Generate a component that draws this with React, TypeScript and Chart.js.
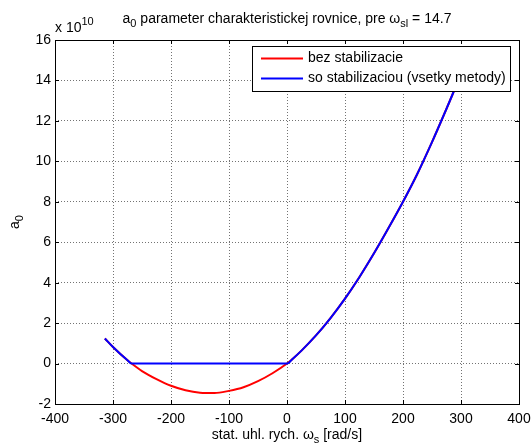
import React, { useEffect, useRef } from "react";
import { Chart, registerables } from "chart.js";

Chart.register(...registerables);

// Stator angular speed [rad/s]
const omegaS = [-314, -300, -275, -268, -250, -225, -200, -175, -150, -125, -100, -75, -50, -25, 0, 10, 25, 50, 75, 100, 125, 150, 175, 200, 225, 250, 275, 300, 314];
// a0 without stabilization [x 1e10]
const a0Bez = [1.24, 0.82, 0.16, 0, -0.37, -0.77, -1.1, -1.32, -1.44, -1.46, -1.35, -1.17, -0.87, -0.48, 0, 0.24, 0.64, 1.39, 2.25, 3.21, 4.28, 5.45, 6.7, 8.0, 9.4, 10.95, 12.6, 14.3, 15.2];

// With stabilization (all methods)
const omegaStab = [-314, -300, -275, -268, 0, 10, 25, 50, 75, 100, 125, 150, 175, 200, 225, 250, 275, 300, 314];
const a0Stab = [1.24, 0.82, 0.16, 0, 0, 0.24, 0.64, 1.39, 2.25, 3.21, 4.28, 5.45, 6.7, 8.0, 9.4, 10.95, 12.6, 14.3, 15.2];

const xTicks = [-400, -300, -200, -100, 0, 100, 200, 300, 400];
const yTicks = [-2, 0, 2, 4, 6, 8, 10, 12, 14, 16];

const legendLabels = ["bez stabilizacie", "so stabilizaciou (vsetky metody)"];
const seriesColors = ["#ff0000", "#0000ff"];

const FONT = '"Liberation Sans", Arial, Helvetica, sans-serif';
const FS = 14;

type Part = { t: string; sub?: boolean; sup?: boolean };

function drawRich(ctx: CanvasRenderingContext2D, parts: Part[], x: number, y: number, align: "left" | "center", size = FS) {
  const small = 11;
  const fontOf = (p: Part) => `${p.sub || p.sup ? small : size}px ${FONT}`;
  let w = 0;
  for (const p of parts) {
    ctx.font = fontOf(p);
    w += ctx.measureText(p.t).width;
  }
  let cx = align === "center" ? x - w / 2 : x;
  ctx.textAlign = "left";
  ctx.textBaseline = "alphabetic";
  for (const p of parts) {
    ctx.font = fontOf(p);
    const dy = p.sub ? 4 : p.sup ? -7 : 0;
    ctx.fillText(p.t, cx, y + dy);
    cx += ctx.measureText(p.t).width;
  }
}

const decorPlugin = {
  id: "matlabDecor",
  afterDraw(chart: any) {
    const { ctx, chartArea } = chart;
    const { left, right, top, bottom } = chartArea;
    const xs = chart.scales.x;
    const ys = chart.scales.y;
    ctx.save();
    ctx.fillStyle = "#000";
    ctx.strokeStyle = "#000";
    ctx.lineWidth = 1;

    // inward tick marks on all four sides
    ctx.beginPath();
    const tl = 4;
    for (const v of xTicks) {
      const px = Math.round(xs.getPixelForValue(v)) + 0.5;
      ctx.moveTo(px, bottom);
      ctx.lineTo(px, bottom - tl);
      ctx.moveTo(px, top);
      ctx.lineTo(px, top + tl);
    }
    for (const v of yTicks) {
      const py = Math.round(ys.getPixelForValue(v)) + 0.5;
      ctx.moveTo(left, py);
      ctx.lineTo(left + tl, py);
      ctx.moveTo(right, py);
      ctx.lineTo(right - tl, py);
    }
    ctx.stroke();

    // axes box
    ctx.strokeRect(Math.round(left) + 0.5, Math.round(top) + 0.5, Math.round(right - left), Math.round(bottom - top));

    // legend
    const lx = 252, ly = 46, lw = 258, lh = 45;
    ctx.fillStyle = "#fff";
    ctx.fillRect(lx, ly, lw, lh);
    ctx.strokeStyle = "#000";
    ctx.strokeRect(lx + 0.5, ly + 0.5, lw, lh);
    const rows = [58.5, 78.5];
    rows.forEach((ry, i) => {
      ctx.strokeStyle = seriesColors[i];
      ctx.lineWidth = 2;
      ctx.beginPath();
      ctx.moveTo(261, ry);
      ctx.lineTo(303, ry);
      ctx.stroke();
      ctx.fillStyle = "#000";
      ctx.font = `${FS}px ${FONT}`;
      ctx.textAlign = "left";
      ctx.textBaseline = "middle";
      ctx.fillText(legendLabels[i], 308, ry);
    });

    ctx.fillStyle = "#000";
    // title
    drawRich(ctx, [
      { t: "a" }, { t: "0", sub: true },
      { t: " parameter charakteristickej rovnice, pre " },
      { t: "\u03c9" }, { t: "sl", sub: true }, { t: " = 14.7" },
    ], (left + right) / 2, 23, "center");

    // exponent label
    drawRich(ctx, [{ t: "x 10" }, { t: "10", sup: true }], 55, 32, "left");

    // x axis title
    drawRich(ctx, [
      { t: "stat. uhl. rych. " }, { t: "\u03c9" }, { t: "s", sub: true }, { t: " [rad/s]" },
    ], (left + right) / 2, 439, "center");

    // y axis title
    ctx.save();
    ctx.translate(19, 222);
    ctx.rotate(-Math.PI / 2);
    drawRich(ctx, [{ t: "a" }, { t: "0", sub: true }], 0, 0, "center");
    ctx.restore();

    ctx.restore();
  },
};

export default function App() {
  const ref = useRef<HTMLCanvasElement | null>(null);
  useEffect(() => {
    if (!ref.current) return;
    const chart = new Chart(ref.current, {
      type: "line",
      data: {
        datasets: [
          {
            label: legendLabels[0],
            data: omegaS.map((x, i) => ({ x, y: a0Bez[i] })),
            borderColor: seriesColors[0],
            borderWidth: 2,
            pointRadius: 0,
            cubicInterpolationMode: "monotone",
            order: 2,
          },
          {
            label: legendLabels[1],
            data: omegaStab.map((x, i) => ({ x, y: a0Stab[i] })),
            borderColor: seriesColors[1],
            borderWidth: 2,
            pointRadius: 0,
            cubicInterpolationMode: "monotone",
            order: 1,
          },
        ],
      },
      options: {
        responsive: false,
        animation: false,
        events: [],
        layout: { padding: { top: 40, right: 12, left: 0, bottom: 0 } },
        plugins: { legend: { display: false }, tooltip: { enabled: false }, title: { display: false } },
        scales: {
          x: {
            type: "linear",
            min: -400,
            max: 400,
            afterBuildTicks: (s: any) => { s.ticks = xTicks.map((v) => ({ value: v })); },
            afterFit: (s: any) => {
              s.height = 40;
              s.paddingLeft = 0;
              s.paddingRight = 0;
            },
            ticks: { color: "#000", font: { family: FONT, size: FS }, padding: 7, maxRotation: 0, autoSkip: false },
            grid: { color: "rgba(0,0,0,0.55)", drawTicks: false, tickLength: 0 },
            border: { display: false, dash: [1, 2] },
          },
          y: {
            type: "linear",
            min: -2,
            max: 16,
            afterBuildTicks: (s: any) => { s.ticks = yTicks.map((v) => ({ value: v })); },
            afterFit: (s: any) => {
              s.width = 55;
              s.paddingTop = 0;
              s.paddingBottom = 0;
            },
            ticks: { color: "#000", font: { family: FONT, size: FS }, padding: 4, autoSkip: false },
            grid: { color: "rgba(0,0,0,0.55)", drawTicks: false, tickLength: 0 },
            border: { display: false, dash: [1, 2] },
          },
        },
      },
      plugins: [decorPlugin],
    });
    return () => chart.destroy();
  }, []);
  return (
    <div style={{ position: "fixed", left: 0, top: 0, width: 531, height: 444, background: "#fff" }}>
      <canvas ref={ref} width={531} height={444} style={{ display: "block" }} />
    </div>
  );
}
